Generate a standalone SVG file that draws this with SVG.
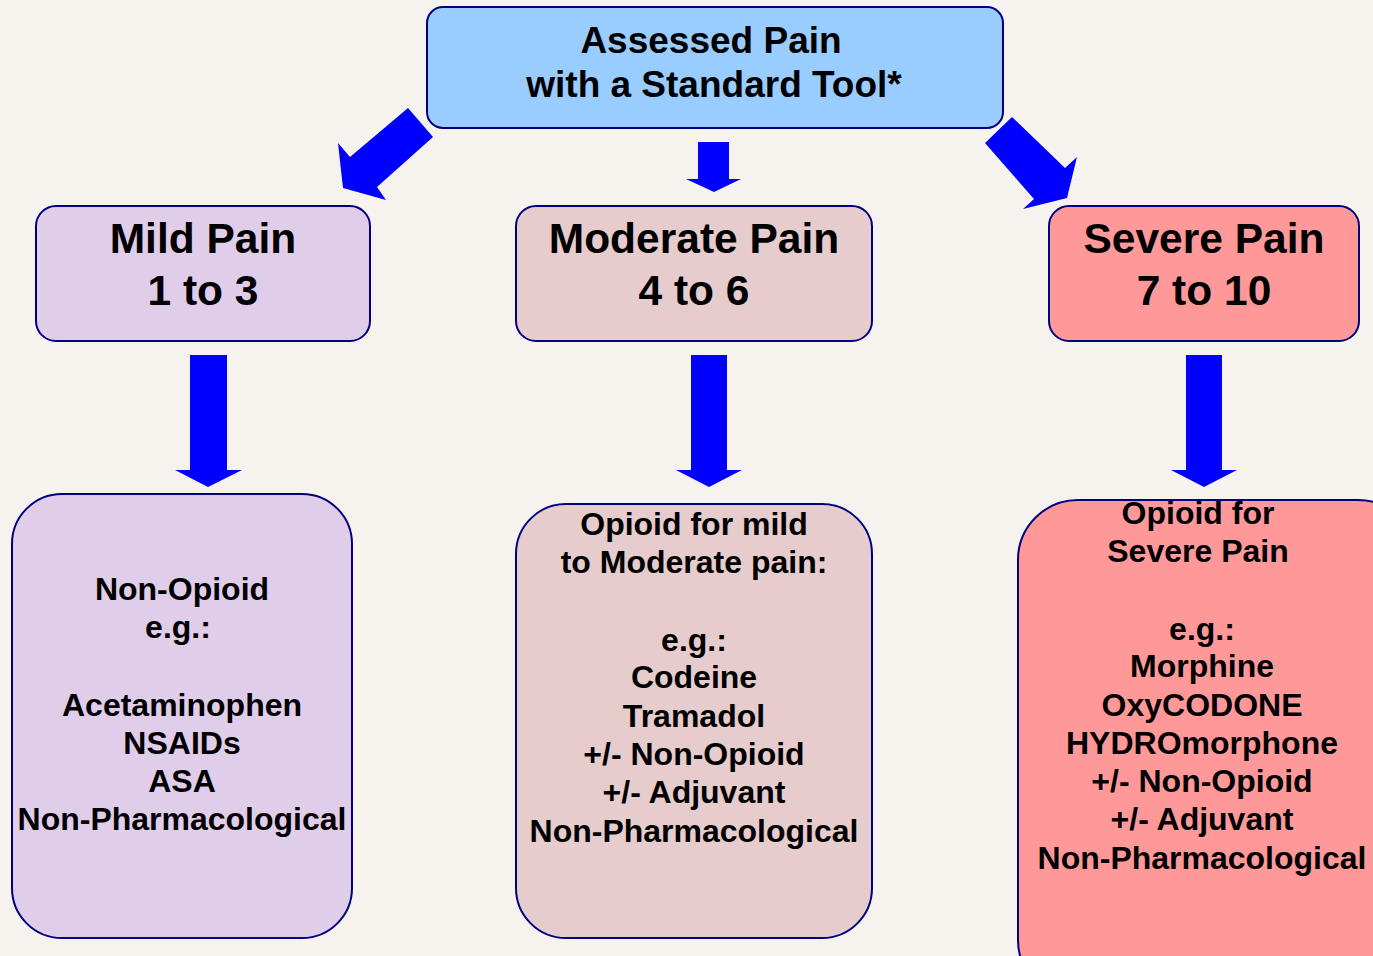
<svg xmlns="http://www.w3.org/2000/svg" width="1373" height="956" viewBox="0 0 1373 956">
<style>
.box{stroke:#000080;stroke-width:2}
.t{font-family:"Liberation Sans",Arial,sans-serif;font-weight:bold;fill:#000;text-anchor:middle}
.h1{font-size:37px}
.h2{font-size:42.5px}
.b{font-size:32px}
.arr{fill:#0000ff}
</style>
<rect width="1373" height="956" fill="#f6f3ee"/>
<g id="top">
<rect class="box" x="427" y="7" width="576" height="121" rx="16" fill="#99ccff"/>
<text class="t h1" x="711" y="53">Assessed Pain</text>
<text class="t h1" x="714" y="97">with a Standard Tool*</text>
</g>
<g id="mild">
<rect class="box" x="36" y="206" width="334" height="135" rx="20" fill="#e0cdea"/>
<text class="t h2" x="203" y="253">Mild Pain</text>
<text class="t h2" x="203" y="305">1 to 3</text>
</g>
<g id="moderate">
<rect class="box" x="516" y="206" width="356" height="135" rx="20" fill="#e6cccc"/>
<text class="t h2" x="694" y="253">Moderate Pain</text>
<text class="t h2" x="694" y="305">4 to 6</text>
</g>
<g id="severe">
<rect class="box" x="1049" y="206" width="310" height="135" rx="20" fill="#ff9999"/>
<text class="t h2" x="1204" y="253">Severe Pain</text>
<text class="t h2" x="1204" y="305">7 to 10</text>
</g>
<g id="mild-tx">
<rect class="box" x="12" y="494" width="340" height="444" rx="50" fill="#e0cdea"/>
<text class="t b" x="182" y="600">Non-Opioid</text>
<text class="t b" x="178" y="638">e.g.:</text>
<text class="t b" x="182" y="716">Acetaminophen</text>
<text class="t b" x="182" y="754">NSAIDs</text>
<text class="t b" x="182" y="792">ASA</text>
<text class="t b" x="182" y="830">Non-Pharmacological</text>
</g>
<g id="moderate-tx">
<rect class="box" x="516" y="504" width="356" height="434" rx="50" fill="#e6cccc"/>
<text class="t b" x="694" y="535">Opioid for mild</text>
<text class="t b" x="694" y="573">to Moderate pain:</text>
<text class="t b" x="694" y="651">e.g.:</text>
<text class="t b" x="694" y="688">Codeine</text>
<text class="t b" x="694" y="727">Tramadol</text>
<text class="t b" x="694" y="765">+/- Non-Opioid</text>
<text class="t b" x="694" y="803">+/- Adjuvant</text>
<text class="t b" x="694" y="842">Non-Pharmacological</text>
</g>
<g id="severe-tx">
<rect class="box" x="1018" y="500" width="400" height="500" rx="60" fill="#ff9999"/>
<text class="t b" x="1198" y="524">Opioid for</text>
<text class="t b" x="1198" y="562">Severe Pain</text>
<text class="t b" x="1202" y="640">e.g.:</text>
<text class="t b" x="1202" y="677">Morphine</text>
<text class="t b" x="1202" y="716">OxyCODONE</text>
<text class="t b" x="1202" y="754">HYDROmorphone</text>
<text class="t b" x="1202" y="792">+/- Non-Opioid</text>
<text class="t b" x="1202" y="830">+/- Adjuvant</text>
<text class="t b" x="1202" y="869">Non-Pharmacological</text>
</g>
<g id="connectors">
<polygon class="arr" points="408,108 433,137 377,187 386,200 343,188 338,143 350,157"/>
<polygon class="arr" points="698,142 729,142 729,179 741,179 714,192 686,179 698,179"/>
<polygon class="arr" points="1012,117 985,143 1034,199 1023,209 1067,198 1077,157 1065,168"/>
<polygon class="arr" points="190,355 227,355 227,470 242,470 208,487 175,470 190,470"/>
<polygon class="arr" points="691,355 727,355 727,470 742,470 709,487 676,470 691,470"/>
<polygon class="arr" points="1186,355 1222,355 1222,470 1237,470 1204,487 1171,470 1186,470"/>
</g>
</svg>
